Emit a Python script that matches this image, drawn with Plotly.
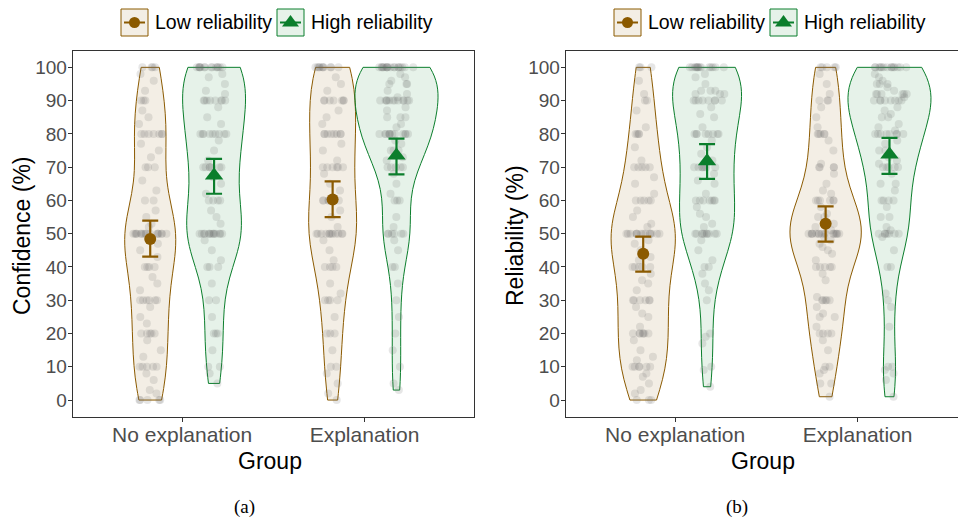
import numpy as np
import plotly.graph_objects as go

# ---------------- data ----------------
groups = ["No explanation", "Explanation"]
series_names = ["Low reliability", "High reliability"]
y_tick_values = [0, 10, 20, 30, 40, 50, 60, 70, 80, 90, 100]

# Panel (a): Confidence (%)
conf_low_noexp = [100]*4 + [98, 96, 93] + [90]*3 + [87, 85, 83] + [80]*7 + [77, 75, 73] + [70]*3 + [66, 63] + \
                 [60]*2 + [57, 55, 53, 52] + [50]*16 + [48, 47, 45, 43] + [40]*4 + [37, 35, 33] + [30]*6 + \
                 [28, 25, 23] + [20]*5 + [18, 15, 13] + [10]*5 + [8, 6, 3, 2] + [0]*5
conf_high_noexp = [100]*14 + [98, 97, 95, 93, 92] + [90]*8 + [88, 85, 83] + [80]*9 + [78, 75, 72] + [70]*7 + \
                  [67, 65, 62] + [60]*4 + [57, 55, 53] + [50]*14 + [48, 45, 42] + [40]*3 + [35] + [30]*2 + \
                  [25] + [20]*3 + [15] + [10]*2 + [8, 5]
conf_low_exp = [100]*10 + [97, 95, 93] + [90]*7 + [87, 85, 83] + [80]*8 + [77, 75, 72] + [70]*6 + [68, 65, 63] + \
               [60]*6 + [57, 55, 52] + [50]*12 + [48, 45, 42] + [40]*4 + [35, 32] + [30]*4 + [25] + [20]*3 + \
               [15] + [10]*2 + [8, 5, 2, 0]
conf_high_exp = [100]*18 + [98, 97, 96] + [95]*3 + [93, 92, 91] + [90]*12 + [88, 87] + [85]*3 + [83, 82] + \
                [80]*12 + [78, 77] + [75]*3 + [73, 72] + [70]*5 + [68, 65, 62] + [60]*3 + [55, 52] + [50]*6 + \
                [48, 45] + [40]*2 + [35, 30, 25, 20, 15, 10, 5, 3]

conf_mean_low = [48.4, 60.3]
conf_lo_low = [43.1, 55.0]
conf_hi_low = [53.9, 65.7]
conf_mean_high = [67.5, 73.5]
conf_lo_high = [62.0, 67.8]
conf_hi_high = [72.5, 78.6]

# Panel (b): Reliability (%)
rel_low_noexp = [100]*3 + [96, 92] + [90]*2 + [87, 82] + [80]*4 + [76, 72] + [70]*5 + [67, 65, 62] + [60]*5 + \
                [57, 55, 53, 52] + [50]*14 + [48, 47, 45, 43, 42] + [40]*5 + [38, 36, 35, 33] + [30]*6 + \
                [28, 26, 25, 22] + [20]*7 + [18, 15, 13, 12] + [10]*6 + [8, 7, 5, 3, 2] + [0]*3
rel_high_noexp = [100]*14 + [98, 97, 95] + [93]*3 + [92]*3 + [90]*8 + [88, 86, 85, 82] + [80]*8 + \
                 [78, 76, 74, 72] + [70]*7 + [68, 66, 65, 62] + [60]*7 + [58, 56, 55, 53, 52] + [50]*10 + \
                 [48, 45, 42] + [40]*2 + [38, 35, 33, 30] + [20, 19, 17] + [10, 9, 4]
rel_low_exp = [100]*5 + [98, 95, 92] + [90]*3 + [88, 85, 82] + [80]*5 + [78, 75, 71] + [70]*4 + [68, 65, 63, 62] + \
              [60]*6 + [58, 56] + [55]*2 + [53, 52, 51] + [50]*16 + [49, 48, 47, 46, 45, 44, 42] + [40]*5 + \
              [38, 36, 31] + [30]*5 + [28, 26] + [25]*2 + [22] + [20]*4 + [18, 15] + [10]*2 + [9, 8] + [5]*2 + [1]
rel_high_exp = [100]*14 + [98, 97, 96] + [95]*3 + [94, 93] + [92]*6 + [91] + [90]*8 + [88, 87, 86] + [85]*2 + \
               [83, 82, 81] + [80]*8 + [78, 77] + [75]*2 + [73, 72, 71] + [70]*5 + [68] + [65]*2 + [63] + \
               [60]*4 + [58] + [55]*2 + [52, 51] + [50]*7 + [49, 45] + [40]*2 + [32, 30, 28, 22] + [10]*2 + \
               [9, 8, 6, 1]

rel_mean_low = [44.0, 53.0]
rel_lo_low = [38.6, 47.6]
rel_hi_low = [49.1, 58.2]
rel_mean_high = [71.8, 73.8]
rel_lo_high = [66.5, 68.0]
rel_hi_high = [76.9, 78.8]

# ---------------- styling / layout constants ----------------
W, H = 958, 520
BROWN = "#8B5A00"
GREEN = "#0B7E2C"
FILL = {"low": "rgba(139,90,0,0.10)", "high": "rgba(11,126,44,0.10)"}
LINE = {"low": BROWN, "high": GREEN}
POINT_COLOR = "rgba(105,105,105,0.17)"
DODGE = 0.175
FONT = "Liberation Sans, Arial, sans-serif"
SERIF = "Liberation Serif, Times New Roman, serif"

# plot-area frame in pixels
A_LEFT, A_RIGHT = 72.7, 474.0
B_LEFT = 565.7
TOP_PX, BOT_PX = 50.7, 416.7
X_LO, X_HI_A = 0.4, 2.6
PX_PER_UNIT = (A_RIGHT - A_LEFT) / (X_HI_A - X_LO)
X_HI_B = X_LO + (W - B_LEFT) / PX_PER_UNIT

# full violin widths (data units), per panel / group / series
widths = {
    ("a", 0, "low"): 0.28, ("a", 0, "high"): 0.345,
    ("a", 1, "low"): 0.263, ("a", 1, "high"): 0.455,
    ("b", 0, "low"): 0.351, ("b", 0, "high"): 0.378,
    ("b", 1, "low"): 0.389, ("b", 1, "high"): 0.455,
}
JITTER_HALF = 0.095


def px_x(p):
    return p / W


def px_y(p):
    return 1 - p / H


def nrd0(v):
    v = np.asarray(v, float)
    sd = v.std(ddof=1)
    q75, q25 = np.percentile(v, [75, 25])
    lo = min(sd, (q75 - q25) / 1.34)
    return 0.9 * lo * len(v) ** -0.2


panels = {
    "a": dict(xa="x", ya="y",
              data={(0, "low"): conf_low_noexp, (0, "high"): conf_high_noexp,
                    (1, "low"): conf_low_exp, (1, "high"): conf_high_exp},
              stats={"low": (conf_mean_low, conf_lo_low, conf_hi_low),
                     "high": (conf_mean_high, conf_lo_high, conf_hi_high)}),
    "b": dict(xa="x2", ya="y2",
              data={(0, "low"): rel_low_noexp, (0, "high"): rel_high_noexp,
                    (1, "low"): rel_low_exp, (1, "high"): rel_high_exp},
              stats={"low": (rel_mean_low, rel_lo_low, rel_hi_low),
                     "high": (rel_mean_high, rel_lo_high, rel_hi_high)}),
}
offsets = {"low": -DODGE, "high": DODGE}

fig = go.Figure()

for pk, p in panels.items():
    for (gi, s), vals in p["data"].items():
        w = widths[(pk, gi, s)]
        fig.add_trace(go.Violin(
            x0=gi + 1 + offsets[s], y=vals, width=w,
            xaxis=p["xa"], yaxis=p["ya"],
            line=dict(color=LINE[s], width=1), fillcolor=FILL[s],
            points="all", pointpos=0, jitter=min(1.0, JITTER_HALF / (w / 2)),
            marker=dict(color=POINT_COLOR, size=8, line=dict(width=0)),
            spanmode="hard", bandwidth=nrd0(vals),
            box_visible=False, meanline_visible=False,
            hoverinfo="skip", showlegend=False, name=f"{pk}-{gi}-{s}",
        ))
    for s in ["low", "high"]:
        m, lo, hi = p["stats"][s]
        fig.add_trace(go.Scatter(
            x=[gi + 1 + offsets[s] for gi in range(len(groups))], y=m,
            xaxis=p["xa"], yaxis=p["ya"], mode="markers",
            marker=dict(symbol="circle" if s == "low" else "triangle-up",
                        size=12 if s == "low" else 16, color=LINE[s], line=dict(width=0)),
            error_y=dict(type="data", symmetric=False,
                         array=[h - v for h, v in zip(hi, m)],
                         arrayminus=[v - l for v, l in zip(m, lo)],
                         color=LINE[s], thickness=2.2, width=8),
            hoverinfo="skip", showlegend=False,
        ))

axis_common = dict(showgrid=False, zeroline=False, showline=True, linecolor="#333333", linewidth=1,
                   ticks="outside", ticklen=4, tickcolor="#333333", tickwidth=1)
x_common = dict(axis_common, type="linear", tickvals=[1, 2], ticktext=groups, ticklabelstandoff=-5,
                tickfont=dict(family=FONT, size=21, color="#4D4D4D"), mirror=True)
y_common = dict(axis_common, range=[-5, 105], tickvals=y_tick_values, ticklabelstandoff=-3,
                tickfont=dict(family=FONT, size=19, color="#4D4D4D"))

fig.update_layout(
    width=W, height=H, margin=dict(l=0, r=0, t=0, b=0),
    paper_bgcolor="white", plot_bgcolor="white", showlegend=False,
    xaxis=dict(x_common, domain=[px_x(A_LEFT), px_x(A_RIGHT)], range=[X_LO, X_HI_A], anchor="y"),
    yaxis=dict(y_common, domain=[px_y(BOT_PX), px_y(TOP_PX)], anchor="x", mirror=True),
    xaxis2=dict(x_common, domain=[px_x(B_LEFT), 1.0], range=[X_LO, X_HI_B], anchor="y2"),
    yaxis2=dict(y_common, domain=[px_y(BOT_PX), px_y(TOP_PX)], anchor="x2", mirror=False),
)

annotations = []
shapes = []


def text(x, y, t, size, family=FONT, color="black", angle=0, xanchor="center"):
    annotations.append(dict(x=px_x(x), y=px_y(y), xref="paper", yref="paper", text=t, showarrow=False,
                            font=dict(family=family, size=size, color=color), textangle=angle,
                            xanchor=xanchor, yanchor="middle"))


# axis titles & captions
for shift, ytitle, cap in [(0, "Confidence (%)", "(a)"), (493, "Reliability (%)", "(b)")]:
    text(22 + shift, 236, ytitle, 23, angle=-90)
    text(270 + shift, 461, "Group", 23)
    text(242 + shift + 2, 507, cap, 19, family=SERIF)

# legends (per panel)
for shift in [0, 493]:
    for s, bx, tx, label in [("low", 121, 153, series_names[0]), ("high", 277, 309, series_names[1])]:
        x0, x1 = bx + shift, bx + 27 + shift
        y0, y1 = 9, 36
        cy = 22.5
        cx = (x0 + x1) / 2
        shapes.append(dict(type="rect", xref="paper", yref="paper",
                           x0=px_x(x0), x1=px_x(x1), y0=px_y(y1), y1=px_y(y0),
                           fillcolor=FILL[s], line=dict(color=LINE[s], width=1)))
        shapes.append(dict(type="line", xref="paper", yref="paper",
                           x0=px_x(x0 + 3), x1=px_x(x1 - 3), y0=px_y(cy), y1=px_y(cy),
                           line=dict(color=LINE[s], width=2)))
        if s == "low":
            r = 5.5
            shapes.append(dict(type="circle", xref="paper", yref="paper",
                               x0=px_x(cx - r), x1=px_x(cx + r), y0=px_y(cy + r), y1=px_y(cy - r),
                               fillcolor=LINE[s], line=dict(color=LINE[s], width=0)))
        else:
            path = (f"M {px_x(cx - 8.5)},{px_y(cy + 4)} L {px_x(cx + 8.5)},{px_y(cy + 4)} "
                    f"L {px_x(cx)},{px_y(cy - 7.5)} Z")
            shapes.append(dict(type="path", xref="paper", yref="paper", path=path,
                               fillcolor=LINE[s], line=dict(color=LINE[s], width=0)))
        text(tx + shift, cy, label, 19.5, xanchor="left")

fig.update_layout(annotations=annotations, shapes=shapes)

fig.write_html("out.html", config={"displayModeBar": False},
               post_script="document.body.style.margin='0';document.body.style.overflow='hidden';")
